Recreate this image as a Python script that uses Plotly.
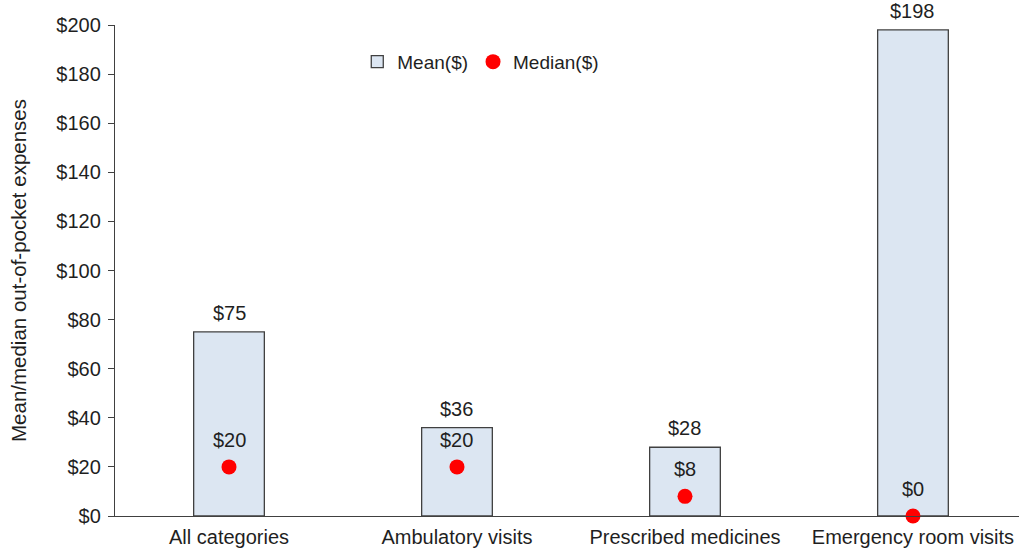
import plotly.graph_objects as go

# Out-of-pocket expense categories and their mean / median values (US$)
categories = ["All categories", "Ambulatory visits", "Prescribed medicines", "Emergency room visits"]
mean_values = [75, 36, 28, 198]
median_values = [20, 20, 8, 0]
y_ticks = list(range(0, 201, 20))
y_tick_labels = [f"${v}" for v in y_ticks]

FONT = "Liberation Sans, Arial, sans-serif"
TEXT_COLOR = "#1f1f1f"
AXIS_COLOR = "#404040"
FS = 20

fig = go.Figure()

fig.add_trace(go.Bar(
    x=categories,
    y=mean_values,
    name="Mean($)",
    width=0.31,
    marker=dict(color="#dce6f2", line=dict(color=AXIS_COLOR, width=1.3)),
))

fig.add_trace(go.Scatter(
    x=categories,
    y=median_values,
    name="Median($)",
    mode="markers",
    marker=dict(color="#ff0000", size=15, line=dict(width=0)),
    cliponaxis=False,
))

# Value labels above each bar and each median point
for cat, v in zip(categories, mean_values):
    fig.add_annotation(x=cat, y=v, text=f"${v}", showarrow=False,
                       yanchor="bottom", yshift=6,
                       font=dict(family=FONT, size=FS, color=TEXT_COLOR))
for cat, v in zip(categories, median_values):
    fig.add_annotation(x=cat, y=v, text=f"${v}", showarrow=False,
                       yanchor="bottom", yshift=14,
                       font=dict(family=FONT, size=FS, color=TEXT_COLOR))

fig.update_layout(
    width=1019,
    height=553,
    margin=dict(l=115, r=0, t=25, b=37),
    paper_bgcolor="white",
    plot_bgcolor="white",
    font=dict(family=FONT, size=FS, color=TEXT_COLOR),
    showlegend=True,
    legend=dict(
        orientation="h",
        x=0.268, xanchor="left",
        y=0.925, yanchor="middle",
        font=dict(family=FONT, size=19, color=TEXT_COLOR),
        bgcolor="rgba(0,0,0,0)",
        itemwidth=30,
        tracegroupgap=0,
    ),
    xaxis=dict(
        range=[-0.5, 3.465],
        showline=True,
        linecolor=AXIS_COLOR,
        linewidth=1.3,
        ticks="",
        showgrid=False,
        ticklabelstandoff=3,
        tickfont=dict(family=FONT, size=FS, color=TEXT_COLOR),
    ),
    yaxis=dict(
        range=[0, 200],
        tickmode="array",
        tickvals=y_ticks,
        ticktext=y_tick_labels,
        showline=True,
        linecolor=AXIS_COLOR,
        linewidth=1.3,
        ticks="outside",
        ticklen=6,
        tickcolor=AXIS_COLOR,
        showgrid=False,
        zeroline=False,
        ticklabelstandoff=3,
        tickfont=dict(family=FONT, size=FS, color=TEXT_COLOR),
        title=dict(text="Mean/median out-of-pocket expenses",
                   font=dict(family=FONT, size=20.5, color=TEXT_COLOR),
                   standoff=24),
    ),
)

fig.write_html("out.html")
